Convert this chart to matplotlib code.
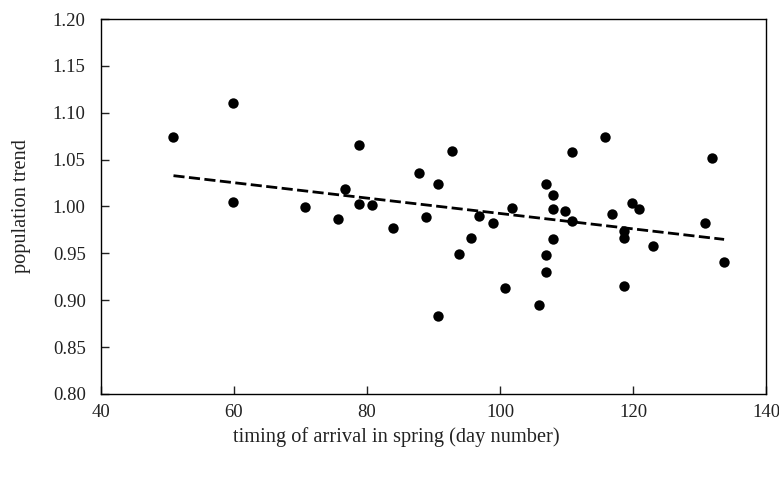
import numpy as np
import matplotlib
matplotlib.use("Agg")
import matplotlib.pyplot as plt

# Data
arrival_day = [50.9, 59.9, 59.9, 70.7, 75.7, 76.7, 78.8, 78.8, 80.7, 83.9,
               87.8, 88.9, 90.7, 90.7, 92.8, 93.9, 95.7, 96.8, 98.9, 100.8,
               101.8, 105.8, 106.9, 106.9, 106.9, 107.9, 107.9, 107.9, 109.8, 110.8,
               110.8, 115.8, 116.9, 118.7, 118.7, 118.7, 119.8, 120.9, 123.0, 130.9,
               131.9, 133.7]
pop_trend = [1.0745, 1.1101, 1.0048, 0.9995, 0.9867, 1.0183, 1.0653, 1.0030, 1.0013, 0.9771,
             1.0354, 0.9885, 1.0240, 0.8832, 1.0595, 0.9490, 0.9661, 0.9902, 0.9827, 0.9134,
             0.9981, 0.8946, 1.0240, 0.9486, 0.9301, 1.0126, 0.9973, 0.9657, 0.9955, 1.0585,
             0.9845, 1.0745, 0.9920, 0.9742, 0.9661, 0.9155, 1.0034, 0.9977, 0.9582, 0.9827,
             1.0521, 0.9411]
x_ticks = [40, 60, 80, 100, 120, 140]
y_ticks = [0.80, 0.85, 0.90, 0.95, 1.00, 1.05, 1.10, 1.15, 1.20]
x_label = "timing of arrival in spring (day number)"
y_label = "population trend"

plt.rcParams['font.family'] = ['Liberation Serif', 'DejaVu Serif']

fig = plt.figure(figsize=(7.79, 4.79), dpi=100)
ax = fig.add_axes([101/779, 1-394/479, (766-101)/779, (394-19)/479])

x = np.array(arrival_day)
y = np.array(pop_trend)
ax.scatter(x, y, s=56, color='black', zorder=3, linewidths=0)

slope, intercept = np.polyfit(x, y, 1)
xs = np.array([x.min(), x.max()])
ax.plot(xs, slope*xs + intercept, color='black', lw=2, linestyle=(0, (4, 1.6)), zorder=2)

ax.set_xlim(40, 140)
ax.set_ylim(0.80, 1.20)
ax.set_xticks(x_ticks)
ax.set_xticklabels([str(t) for t in x_ticks])
ax.set_yticks(y_ticks)
ax.set_yticklabels([f"{t:.2f}" for t in y_ticks])
ax.tick_params(direction='in', length=5.5, width=1, labelsize=13.5, colors='#222222',
               top=False, right=False)
ax.tick_params(axis='x', pad=7)
ax.tick_params(axis='y', pad=11)
for sp in ax.spines.values():
    sp.set_linewidth(1.0)
    sp.set_color('black')

ax.set_xlabel(x_label, fontsize=14.7, color='#222222')
ax.xaxis.set_label_coords((396-101)/665, (394-427)/375)
ax.set_ylabel(y_label, fontsize=14.7, labelpad=16, color='#222222')

fig.savefig("out.png", dpi=100)
